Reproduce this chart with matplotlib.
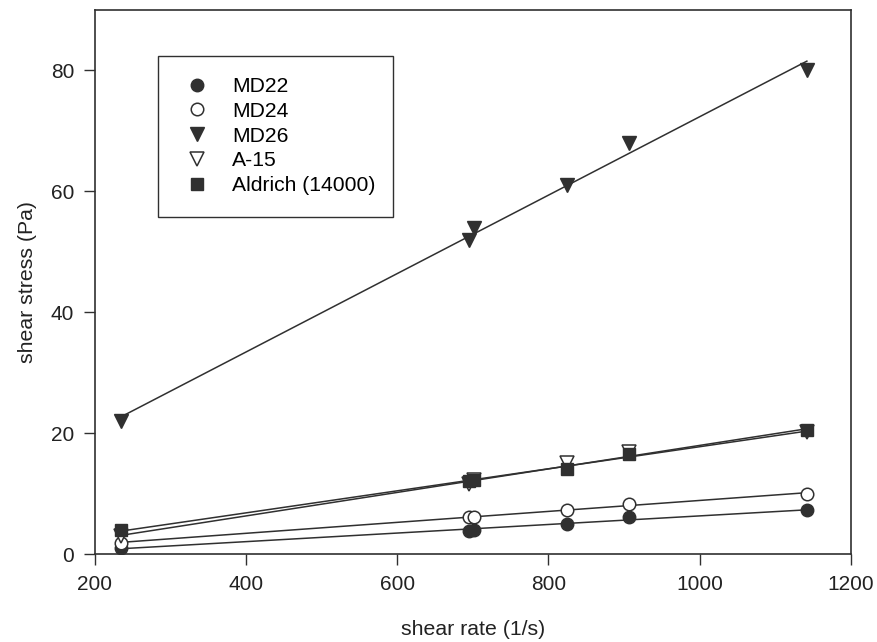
import matplotlib
matplotlib.use("Agg")
import matplotlib.pyplot as plt
from matplotlib.patches import Rectangle
import numpy as np

plt.rcParams['font.family'] = ['Liberation Sans', 'DejaVu Sans']

shear_rate = [234, 695, 702, 825, 906, 1142]
md22 = [1.0, 3.8, 4.0, 5.0, 6.2, 7.2]
md24 = [1.8, 6.2, 6.2, 7.2, 8.3, 9.9]
md26 = [22.0, 52.0, 54.0, 61.0, 68.0, 80.0]
a15 = [3.0, 11.5, 12.2, 15.0, 16.8, 20.2]
aldrich = [4.0, 12.0, 12.2, 14.0, 16.5, 20.5]

series = [
    ("MD22", md22, 'o', 'full'),
    ("MD24", md24, 'o', 'none'),
    ("MD26", md26, 'v', 'full'),
    ("A-15", a15, 'v', 'none'),
    ("Aldrich (14000)", aldrich, 's', 'full'),
]

dark = '#303030'
W, H = 877, 642
fig = plt.figure(figsize=(W/100, H/100), dpi=100)
ax = fig.add_axes([95/W, 1-554/H, (850.7-95)/W, (554-10)/H])

x = np.array(shear_rate, dtype=float)
for name, ys, m, fill in series:
    ys = np.array(ys)
    k, b = np.polyfit(x, ys, 1)
    xx = np.array([x.min(), x.max()])
    ax.plot(xx, k*xx + b, color=dark, lw=1.1, zorder=2)
for name, ys, m, fill in series:
    ms = 9 if m == 'o' else (9.5 if m == 'v' else 8.5)
    if fill == 'full':
        ax.plot(x, ys, linestyle='none', marker=m, markersize=ms, color=dark,
                markeredgecolor=dark, label=name, zorder=3)
    else:
        ax.plot(x, ys, linestyle='none', marker=m, markersize=ms, markerfacecolor='white',
                markeredgecolor=dark, markeredgewidth=1.1, label=name, zorder=3)

ax.set_xlim(200, 1200)
ax.set_ylim(0, 90)
ax.set_xticks([200, 400, 600, 800, 1000, 1200])
ax.set_yticks([0, 20, 40, 60, 80])
ax.tick_params(direction='out', length=8, width=1, colors=dark, labelsize=15,
               labelcolor='#222222', pad=7)
for s in ax.spines.values():
    s.set_color(dark)
    s.set_linewidth(1.2)

ax.set_xlabel("shear rate (1/s)", fontsize=15.3, color='#222222', labelpad=19)
ax.set_ylabel("shear stress (Pa)", fontsize=15.3, color='#222222', labelpad=10)

leg = ax.legend(loc='upper left', bbox_to_anchor=(158/W, 1-55/H),
                bbox_transform=fig.transFigure, borderaxespad=0,
                fontsize=15.2, frameon=False,
                borderpad=1.05, labelspacing=0.27, handletextpad=0.86,
                handlelength=1.6, markerscale=1.0)
box = Rectangle((158/W, 1-217/H), (393-158)/W, (217-56)/H, transform=fig.transFigure,
                fill=False, edgecolor=dark, linewidth=1.0, zorder=5)
fig.patches.append(box)

fig.savefig("out.png", dpi=100)
